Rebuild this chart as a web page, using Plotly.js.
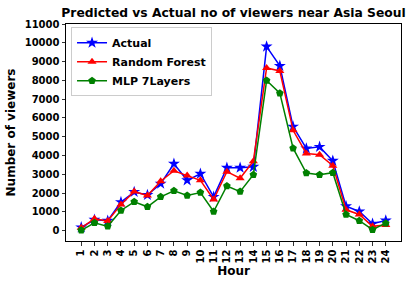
<!DOCTYPE html>
<html><head><meta charset="utf-8">
<script src="https://cdn.plot.ly/plotly-3.0.1.min.js"></script>
<style>html,body{margin:0;padding:0;background:#fff}#c{width:411px;height:286px}</style>
</head><body><div id="c"></div>
<script>
const hours = [1,2,3,4,5,6,7,8,9,10,11,12,13,14,15,16,17,18,19,20,21,22,23,24];
const actual = [175,580,530,1520,2060,1900,2500,3560,2680,3030,1800,3350,3350,3400,9800,8770,5540,4375,4460,3720,1300,1020,370,545];
const randomForest = [150,635,520,1390,2080,1870,2630,3190,2930,2680,1660,3140,2790,3700,8660,8500,5340,4110,4040,3460,1110,860,230,300];
const mlp7 = [20,420,230,1075,1535,1270,1800,2120,1870,2030,1020,2380,2080,2980,7990,7320,4390,3070,2980,3085,860,530,50,400];
const yTicks = [0,1000,2000,3000,4000,5000,6000,7000,8000,9000,10000,11000];

const F = 'DejaVu Sans, sans-serif';
const traces = [
  {x: hours, y: actual, name: 'Actual', mode: 'lines+markers',
   line: {color: '#0000ff', width: 1.5}, marker: {symbol: 'star', size: 9, color: '#0000ff'}},
  {x: hours, y: randomForest, name: 'Random Forest', mode: 'lines+markers',
   line: {color: '#ff0000', width: 1.5}, marker: {symbol: 'triangle-up', size: 8, color: '#ff0000'}},
  {x: hours, y: mlp7, name: 'MLP 7Layers', mode: 'lines+markers',
   line: {color: '#008000', width: 1.5}, marker: {symbol: 'pentagon', size: 8, color: '#008000'}}
];
traces.forEach(t => t.name = '<b>' + t.name + '</b>');
const layout = {
  width: 411, height: 286,
  margin: {l: 66, r: 10, t: 24, b: 45},
  paper_bgcolor: '#fff', plot_bgcolor: '#fff',
  font: {family: F, color: '#000'},
  showlegend: true,
  title: {text: '<b>Predicted vs Actual no of viewers near Asia Seoul</b>', font: {family: F, size: 12.3, color: '#000'},
          xref: 'paper', x: 0.5, xanchor: 'center', yref: 'container', y: 0.955, yanchor: 'middle'},
  xaxis: {range: [-0.15, 25.15], tickvals: hours, ticktext: hours.map(h => '<b>' + h + '</b>'),
          tickangle: -90, ticks: 'outside', ticklen: 3.5, tickwidth: 0.8, tickcolor: '#000',
          showgrid: false, zeroline: false, showline: true, linecolor: '#000', linewidth: 1, mirror: true,
          tickfont: {family: F, size: 10, color: '#000'},
          title: {text: '<b>Hour</b>', font: {family: F, size: 12, color: '#000'}, standoff: 4}},
  yaxis: {range: [-550, 11000], tickvals: yTicks, ticktext: yTicks.map(v => '<b>' + v + '</b>'),
          ticks: 'outside', ticklen: 3.5, tickwidth: 0.8, tickcolor: '#000',
          showgrid: false, zeroline: false, showline: true, linecolor: '#000', linewidth: 1, mirror: true,
          tickfont: {family: F, size: 10, color: '#000'},
          title: {text: '<b>Number of viewers</b>', font: {family: F, size: 12, color: '#000'}, standoff: 6}},
  legend: {x: 0.015, y: 0.985, xanchor: 'left', yanchor: 'top', bgcolor: 'rgba(255,255,255,0.9)',
           bordercolor: '#ccc', borderwidth: 1, font: {family: F, size: 11, color: '#000'},
           itemwidth: 30, tracegroupgap: 0}
};
Plotly.newPlot('c', traces, layout, {displayModeBar: false, staticPlot: true});
</script></body></html>
